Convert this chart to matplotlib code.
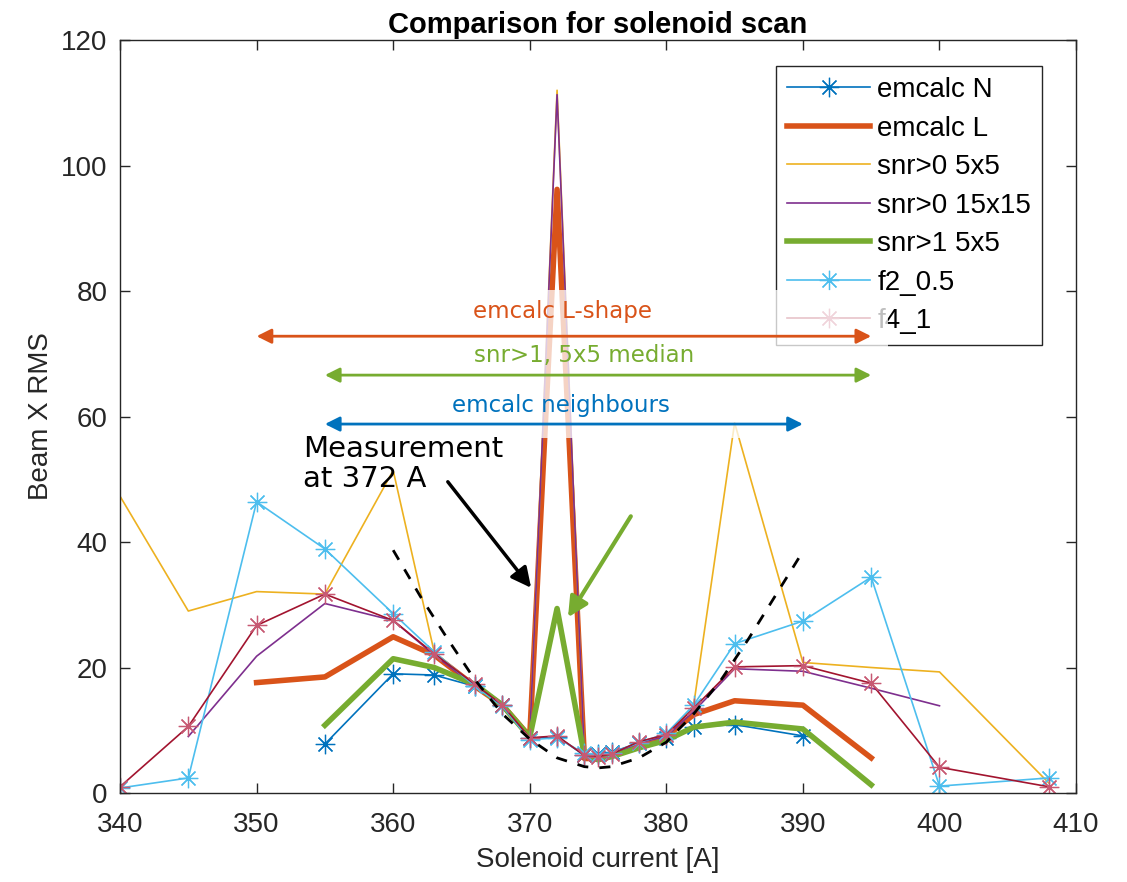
import matplotlib
matplotlib.use("Agg")
import matplotlib.pyplot as plt
import numpy as np
from matplotlib.patches import Rectangle

nan = np.nan

# solenoid current (A)
current = [340, 345, 350, 355, 360, 363, 366, 368, 370, 372, 374,
           375, 376, 378, 380, 382, 385, 390, 395, 400, 408]

emcalc_n = [nan, nan, nan, 7.8, 19.0, 18.8, 17.0, 14.0, 8.7, 9.0, 6.0,
            6.2, 6.5, 8.0, 8.8, 10.5, 10.9, 9.1, nan, nan, nan]
emcalc_l = [nan, nan, 17.6, 18.5, 24.9, 22.0, 17.0, 14.0, 9.0, 96.2, 5.5,
            5.5, 6.0, 7.5, 9.0, 12.5, 14.7, 14.0, 5.6, nan, nan]
snr0_5x5 = [47.3, 29.0, 32.1, 31.7, 51.4, 22.5, 17.0, 14.0, 8.8, 112.0, 6.0,
            5.8, 6.2, 8.0, 9.0, 14.0, 59.0, 20.8, 20.0, 19.3, 1.6]
snr0_15x15 = [nan, 9.0, 21.8, 30.2, 27.5, 22.0, 17.0, 14.0, 8.8, 111.3, 6.0,
              5.8, 6.0, 8.0, 9.0, 13.0, 19.8, 19.4, 16.7, 13.9, nan]
snr1_5x5 = [nan, nan, nan, 10.8, 21.4, 20.0, 17.3, 14.0, 8.9, 29.4, 6.0,
            5.3, 5.8, 7.2, 8.4, 10.5, 11.3, 10.2, 1.3, nan, nan]
f2_05 = [0.8, 2.4, 46.4, 38.9, 28.6, 22.5, 17.0, 13.8, 8.5, 8.8, 6.3,
         6.0, 6.4, 8.0, 9.5, 14.0, 23.8, 27.4, 34.4, 1.1, 2.4]
f4_1 = [1.0, 10.6, 26.7, 31.7, 27.5, 22.2, 17.3, 14.0, 8.8, 9.1, 6.0,
        5.8, 6.2, 8.2, 9.3, 13.5, 20.1, 20.3, 17.5, 4.1, 1.0]

# dashed fit curve
fit_x = [360, 362, 364, 366, 368, 370, 372, 374, 375, 376, 378, 380, 382, 384, 386, 388, 390]
fit_y = [38.7, 31.3, 24.5, 18.0, 12.6, 8.6, 5.6, 4.2, 4.0, 4.2, 5.6, 8.1, 12.6, 18.0, 24.5, 31.5, 38.5]

plt.rcParams["font.family"] = ["Liberation Sans", "DejaVu Sans"]
plt.rcParams["font.size"] = 20

fig = plt.figure(figsize=(11.27, 8.82), dpi=100)
ax = fig.add_axes([0.1065, 0.1009, 0.8483, 0.8537])

ast = (8, 2, 0)
ax.plot(current, emcalc_n, color="#0072BD", lw=1.2, marker=ast, ms=14, mew=0.9, label="emcalc N")
ax.plot(current, emcalc_l, color="#D95319", lw=4, label="emcalc L")
ax.plot(current, snr0_5x5, color="#EDB120", lw=1.2, label="snr>0 5x5")
ax.plot(current, snr0_15x15, color="#7E2F8E", lw=1.2, label="snr>0 15x15")
ax.plot(current, snr1_5x5, color="#77AC30", lw=4, label="snr>1 5x5")
ax.plot(current, f2_05, color="#4DBEEE", lw=1.2, marker=ast, ms=14, mew=0.9, label="f2_0.5")
ax.plot(current, f4_1, color="#A2142F", lw=1.2, marker=ast, ms=14, mew=0.9,
        mec=(0.78, 0.35, 0.45), label="f4_1")
ax.plot(fit_x, fit_y, color="black", lw=2, ls=(0, (4, 4)))

ax.set_xlim(340, 410)
ax.set_ylim(0, 120)
ax.set_xticks(range(340, 411, 10))
ax.set_yticks(range(0, 121, 20))
ax.tick_params(direction="in", length=7, width=1, colors="#262626",
               top=True, right=True, labelsize=20)
ax.tick_params(axis="x", pad=14)
ax.tick_params(axis="y", pad=9)
for s in ax.spines.values():
    s.set_color("#262626")
    s.set_linewidth(1)

ax.set_title("Comparison for solenoid scan", fontsize=21, fontweight="bold", pad=5)
ax.set_xlabel("Solenoid current [A]", fontsize=20, color="#262626", labelpad=6)
ax.set_ylabel("Beam X RMS", fontsize=20, color="#262626", labelpad=5)

leg = ax.legend(loc="upper left", bbox_to_anchor=(0.686, 0.9655), borderaxespad=0,
                fontsize=20, handlelength=3.0, handletextpad=0.25, labelspacing=0.45,
                borderpad=0.4, fancybox=False, framealpha=1, edgecolor="#262626")
leg.get_frame().set_linewidth(1)
leg.set_zorder(5)

# semi-transparent white panel behind the range annotations
ax.add_patch(Rectangle((349.15, 56.6), 47.05, 23.6, facecolor="white", edgecolor="none",
                       alpha=0.75, zorder=6))

ann_font = ["DejaVu Sans"]
ranges = [
    (350, 395, 72.8, "#D95319", "emcalc L-shape", 372.4, 76.8),
    (355, 395, 66.6, "#77AC30", "snr>1, 5x5 median", 374.0, 69.8),
    (355, 390, 58.8, "#0072BD", "emcalc neighbours", 372.3, 61.7),
]
for x0, x1, yy, col, txt, tx, ty in ranges:
    ax.annotate("", xy=(x1, yy), xytext=(x0, yy),
                arrowprops=dict(arrowstyle="<|-|>", color=col, lw=2, mutation_scale=22,
                                shrinkA=0, shrinkB=0), zorder=7)
    ax.text(tx, ty, txt, color=col, fontsize=16.5, ha="center", va="center",
            family=ann_font, zorder=7)

ax.text(353.4, 52.4, "Measurement\nat 372 A", fontsize=21, ha="left", va="center",
        family=ann_font, linespacing=1.1, zorder=7)
ax.annotate("", xy=(370.1, 32.7), xytext=(364.0, 49.6),
            arrowprops=dict(arrowstyle="-|>", color="black", lw=2.5, mutation_scale=30,
                            shrinkA=0, shrinkB=0), zorder=7)
ax.annotate("", xy=(372.8, 28.0), xytext=(377.4, 44.1),
            arrowprops=dict(arrowstyle="-|>", color="#77AC30", lw=3, mutation_scale=30,
                            shrinkA=0, shrinkB=0), zorder=7)

fig.savefig("out.png", dpi=100, facecolor="white")
